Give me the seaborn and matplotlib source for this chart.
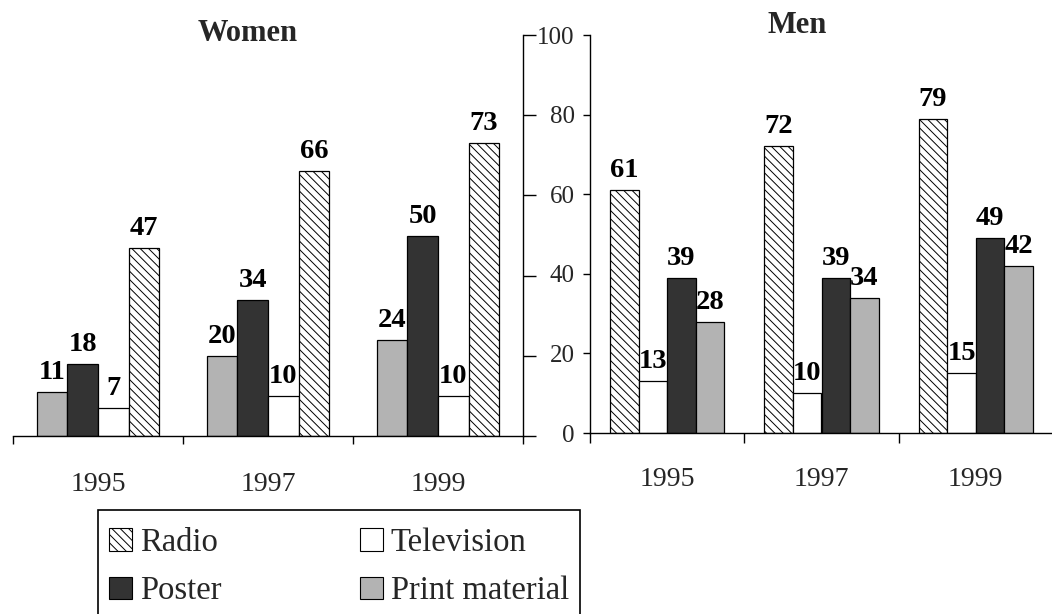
import matplotlib
matplotlib.use("Agg")
import matplotlib.pyplot as plt
import matplotlib.patches as mpatches
import seaborn as sns
import pandas as pd

# ---- data -----------------------------------------------------------------
years = ["1995", "1997", "1999"]

women_print = [11, 20, 24]
women_poster = [18, 34, 50]
women_tv = [7, 10, 10]
women_radio = [47, 66, 73]

men_radio = [61, 72, 79]
men_tv = [13, 10, 15]
men_poster = [39, 39, 49]
men_print = [28, 34, 42]

women_order = ["Print material", "Poster", "Television", "Radio"]
men_order = ["Radio", "Television", "Poster", "Print material"]
legend_order = ["Radio", "Poster", "Television", "Print material"]

y_ticks = [0, 20, 40, 60, 80, 100]

colors = {
    "Radio": "#ffffff",
    "Television": "#ffffff",
    "Poster": "#333333",
    "Print material": "#b3b3b3",
}
RADIO_HATCH = "\\\\\\\\"


def long_frame(series):
    rows = []
    for name, vals in series.items():
        for yr, v in zip(years, vals):
            rows.append({"year": yr, "medium": name, "value": v})
    return pd.DataFrame(rows)


women_df = long_frame({
    "Print material": women_print,
    "Poster": women_poster,
    "Television": women_tv,
    "Radio": women_radio,
})
men_df = long_frame({
    "Radio": men_radio,
    "Television": men_tv,
    "Poster": men_poster,
    "Print material": men_print,
})

# ---- style ----------------------------------------------------------------
sns.set_style("white")
plt.rcParams["font.family"] = ["Liberation Serif", "DejaVu Serif"]
plt.rcParams["hatch.linewidth"] = 0.7
plt.rcParams["hatch.color"] = "#444444"

W, H = 1052, 614
fig = plt.figure(figsize=(W / 100, H / 100), dpi=100)

ax_w = fig.add_axes([13 / W, 1 - 436 / H, 510 / W, 401 / H])
ax_m = fig.add_axes([590 / W, 1 - 433 / H, 463 / W, 398 / H])


def draw_panel(ax, df, order, width, xpad):
    sns.barplot(data=df, x="year", y="value", hue="medium", order=years,
                hue_order=order, palette=colors, edgecolor="black",
                linewidth=0.9, width=width, gap=0, legend=False,
                saturation=1, ax=ax)
    for name, cont in zip(order, ax.containers):
        if name == "Radio":
            for p in cont:
                p.set_hatch(RADIO_HATCH)
        ax.bar_label(cont, fmt="%d", padding=5, fontsize=20.5,
                     fontweight="bold", color="black")
    ax.set_xlim(-0.5, 2.5)
    ax.set_ylim(0, 100)
    ax.set_xlabel("")
    ax.set_ylabel("")
    ax.set_xticks(range(len(years)))
    ax.set_xticklabels(years, fontsize=20)
    ax.set_xticks([-0.5, 0.5, 1.5, 2.5], minor=True)
    ax.tick_params(axis="x", which="major", length=0, pad=xpad)
    ax.tick_params(axis="x", which="minor", length=6, width=1,
                   direction="out", bottom=True, color="black")
    ax.set_yticks(y_ticks)
    for s in ax.spines.values():
        s.set_color("black")
        s.set_linewidth(1.0)
    ax.spines["top"].set_visible(False)
    ax.patch.set_alpha(0)


draw_panel(ax_w, women_df, women_order, 0.72, 26)
draw_panel(ax_m, men_df, men_order, 0.74, 24.5)

# women: axis on the right, ticks only
ax_w.spines["left"].set_visible(False)
ax_w.yaxis.tick_right()
ax_w.tick_params(axis="y", which="major", direction="out", length=9.5,
                 width=1, color="black", labelright=False, right=True)

# men: labelled axis on the left
ax_m.spines["right"].set_visible(False)
ax_m.tick_params(axis="y", which="major", direction="out", length=5,
                 width=1, color="black", left=True, pad=6, labelsize=18)
ax_m.tick_params(axis="x", which="minor", length=7)

fig.text(248 / W, 1 - 41 / H, "Women", ha="center", va="baseline",
         fontsize=22, fontweight="bold")
fig.text(797 / W, 1 - 33 / H, "Men", ha="center", va="baseline",
         fontsize=22, fontweight="bold")

# legend entries, boxed by a frame running off the bottom edge
handles = []
for name in legend_order:
    handles.append(mpatches.Patch(facecolor=colors[name], edgecolor="black",
                                  linewidth=0.8,
                                  hatch=RADIO_HATCH if name == "Radio" else None,
                                  label=name))
fig.legend(handles=handles, ncol=2, loc="upper left",
           bbox_to_anchor=(109 / W, 1 - 527.5 / H), fontsize=23.5,
           frameon=False, borderpad=0, labelspacing=0.55,
           handlelength=0.69, handleheight=0.69, handletextpad=0.25,
           columnspacing=4.26, borderaxespad=0)
fig.patches.append(mpatches.Rectangle((98 / W, -10 / H), 482 / W, 114 / H,
                                      transform=fig.transFigure, fill=False,
                                      edgecolor="black", linewidth=1.2))

fig.savefig("out.png", dpi=100)
